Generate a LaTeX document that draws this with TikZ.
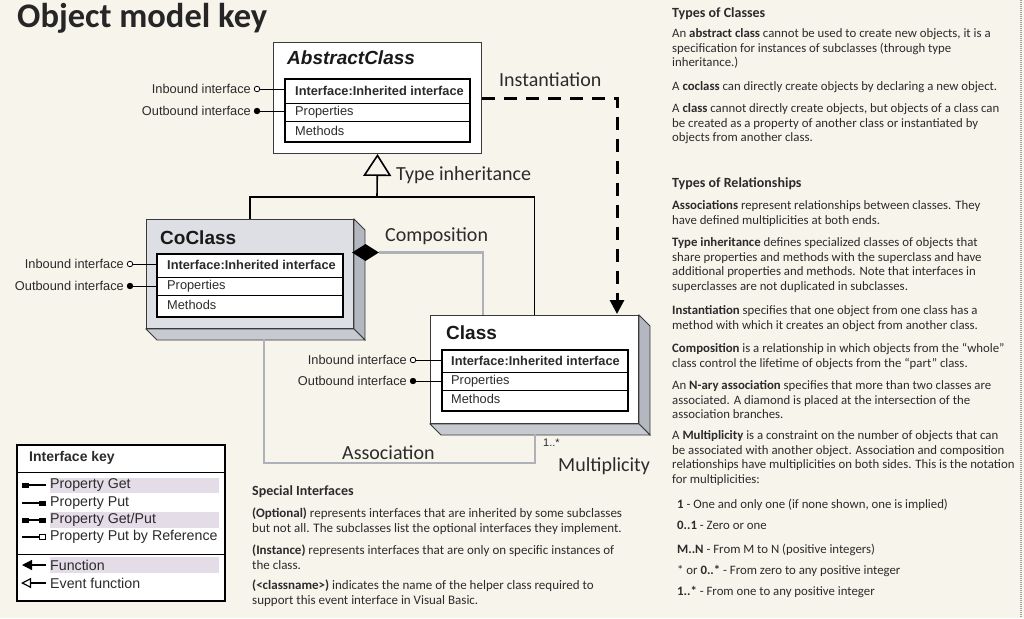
\documentclass[tikz,border=0pt]{standalone}
\usepackage{fontspec}
\setmainfont{Carlito}
\newfontfamily\arial{Liberation Sans}
\usetikzlibrary{arrows.meta,shapes.geometric,calc}
\definecolor{bgc}{HTML}{F7F4EC}
\definecolor{assocc}{HTML}{AEB1B8}
\definecolor{cofront}{HTML}{DDDFE4}
\definecolor{sidec}{HTML}{B3B7C0}
\definecolor{botc}{HTML}{C7CAD1}
\definecolor{hilite}{HTML}{E4DCE6}
\definecolor{txt}{HTML}{2B2B2B}
\definecolor{boxline}{HTML}{3A3A3A}
\tikzset{
  face/.style={draw=boxline, line width=1pt, inner sep=0pt, anchor=north west},
  tab/.style={draw=black, line width=1.8pt, fill=white, inner sep=0pt, anchor=north west},
  rowtxt/.style={anchor=west, inner sep=0pt, font=\arial\fontsize{12.8}{14}\selectfont, text=txt},
  rowbold/.style={rowtxt, font=\arial\bfseries\fontsize{12.8}{14}\selectfont},
  boxtitle/.style={anchor=west, inner sep=0pt, font=\arial\bfseries\fontsize{19}{21}\selectfont, text=black!90},
  lbl/.style={anchor=east, inner sep=0pt, font=\arial\fontsize{12.8}{14}\selectfont, text=txt},
  port/.style={circle, draw=black, line width=0.8pt, minimum size=5.5pt, inner sep=0pt},
  inport/.style={port, fill=white},
  outport/.style={port, fill=black},
  portline/.style={line width=0.8pt},
  rellbl/.style={anchor=west, inner sep=0pt, font=\fontsize{20}{22}\selectfont, text=txt},
  assoc/.style={draw=assocc, line width=2.6pt},
  keytxt/.style={anchor=west, inner sep=0pt, font=\arial\fontsize{14.2}{16}\selectfont, text=txt},
  para/.style={anchor=north west, inner sep=0pt, align=left, font=\fontsize{12.8}{14.6}\selectfont, text=txt},
  spara/.style={anchor=north west, inner sep=0pt, align=left, font=\fontsize{13}{14.2}\selectfont, text=txt},
  head/.style={anchor=west, inner sep=0pt, font=\bfseries\fontsize{14}{16}\selectfont, text=txt},
}
\newcommand\extrude[1]{%
  \filldraw[fill=sidec, draw=boxline, line width=0.8pt] (#1.north east) -- ++(11,11) -- ($(#1.south east)+(11,11)$) -- (#1.south east) -- cycle;
  \filldraw[fill=botc, draw=boxline, line width=0.8pt] (#1.south west) -- (#1.south east) -- ($(#1.south east)+(11,11)$) -- ($(#1.south west)+(11,11)$) -- cycle;
}
\begin{document}
\begin{tikzpicture}[x=1pt,y=-1pt]
\fill[bgc] (0,0) rectangle (1024,618);
\useasboundingbox (0,0) rectangle (1024,618);
\draw[gray!75, line width=1.6pt, dash pattern=on 1pt off 1pt] (1021,0) -- (1021,618);

% title
\node[anchor=west, inner sep=0pt, font=\bfseries\fontsize{34.5}{36}\selectfont, text=black!85] (title) at (17,18) {Object model key};

% ---------- AbstractClass ----------
\node[face, fill=white, minimum width=208pt, minimum height=111pt] (abs) at (273,42) {};
\node[boxtitle, font=\arial\bfseries\itshape\fontsize{19}{21}\selectfont] (abst) at (287,58) {AbstractClass};
\node[tab, minimum width=185pt, minimum height=63pt] (abstab) at (284,78) {};
\draw[line width=0.9pt] (abstab.west |- 0,103) -- (abstab.east |- 0,103);
\draw[line width=0.9pt] (abstab.west |- 0,121) -- (abstab.east |- 0,121);
\node[rowbold] (absr1) at (295,91) {Interface:Inherited interface};
\node[rowtxt] (absr2) at (295,112) {Properties};
\node[rowtxt] (absr3) at (295,131) {Methods};
\node[inport] (absin) at (257,89) {};
\node[outport] (absout) at (257,111) {};
\node[lbl] (absinl) at (251,89) {Inbound interface};
\node[lbl] (absoutl) at (251,111) {Outbound interface};
\draw[portline] (absin.east) -- (absin.east -| abstab.west);
\draw[portline] (absout.east) -- (absout.east -| abstab.west);

% ---------- CoClass ----------
\node[face, fill=cofront, minimum width=207pt, minimum height=109pt] (co) at (146,219) {};
\extrude{co}
\node[boxtitle] (cot) at (160,238) {CoClass};
\node[tab, minimum width=186pt, minimum height=63pt] (cotab) at (156,253) {};
\draw[line width=0.9pt] (cotab.west |- 0,277) -- (cotab.east |- 0,277);
\draw[line width=0.9pt] (cotab.west |- 0,295) -- (cotab.east |- 0,295);
\node[rowbold] (cor1) at (167,265) {Interface:Inherited interface};
\node[rowtxt] (cor2) at (167,286) {Properties};
\node[rowtxt] (cor3) at (167,305) {Methods};
\node[inport] (coin) at (130,264) {};
\node[outport] (coout) at (130,286) {};
\node[lbl] (coinl) at (124,264) {Inbound interface};
\node[lbl] (cooutl) at (124,286) {Outbound interface};
\draw[portline] (coin.east) -- (coin.east -| cotab.west);
\draw[portline] (coout.east) -- (coout.east -| cotab.west);

% ---------- Class ----------
\node[face, fill=white, minimum width=208pt, minimum height=108pt] (cl) at (430,315) {};
\extrude{cl}
\node[boxtitle] (clt) at (446,333) {Class};
\node[tab, minimum width=186pt, minimum height=61pt] (cltab) at (441,349) {};
\draw[line width=0.9pt] (cltab.west |- 0,372) -- (cltab.east |- 0,372);
\draw[line width=0.9pt] (cltab.west |- 0,390) -- (cltab.east |- 0,390);
\node[rowbold] (clr1) at (451,361) {Interface:Inherited interface};
\node[rowtxt] (clr2) at (451,381) {Properties};
\node[rowtxt] (clr3) at (451,399) {Methods};
\node[inport] (clin) at (413,360) {};
\node[outport] (clout) at (413,381) {};
\node[lbl] (clinl) at (407,360) {Inbound interface};
\node[lbl] (cloutl) at (407,381) {Outbound interface};
\draw[portline] (clin.east) -- (clin.east -| cltab.west);
\draw[portline] (clout.east) -- (clout.east -| cltab.west);

% ---------- connectors ----------
\coordinate (inh) at (377,197);
\draw[line width=1.6pt] (co.north) |- (inh) -| (cl.north);
\draw[line width=1.6pt, -{Triangle[open, length=22pt, width=28pt]}] (inh) -- (abs.south);
\node[rellbl] (inhl) at (396,175) {Type inheritance};

\coordinate (instend) at (617,314);
\draw[line width=3pt, dash pattern=on 13pt off 9pt, -{Triangle[length=14pt, width=14pt]}] (abs.east) -| (instend);
\node[rellbl] (instl) at (499,80) {Instantiation};

\node[diamond, fill=black, minimum width=27pt, minimum height=17pt, inner sep=0pt] (comp) at (365.5,252.5) {};
\coordinate (compend) at (483,315);
\draw[assoc] (comp.east) -| (compend);
\node[rellbl] (compl) at (385,236) {Composition};

\coordinate (asA) at (264,339);
\coordinate (asB) at (264,463);
\coordinate (asC) at (535,434);
\draw[assoc] (asA) -- (asB) -| (asC);
\node[rellbl] (assl) at (342,453) {Association};
\node[anchor=west, inner sep=0pt, font=\arial\fontsize{11}{12}\selectfont, text=txt] (mult1) at (543,443) {1..*};
\node[rellbl] (multl) at (558,466) {Multiplicity};

% ---------- Interface key ----------
\node[draw=black, line width=1.8pt, fill=white, minimum width=208pt, minimum height=156pt, anchor=north west, inner sep=0pt] (key) at (16,444) {};
\node[anchor=west, inner sep=0pt, font=\arial\bfseries\fontsize{14}{16}\selectfont, text=txt] (keyh) at (29,458) {Interface key};
\draw[line width=0.9pt] (key.west |- 0,472) -- (key.east |- 0,472);
\draw[line width=0.9pt] (key.west |- 0,554) -- (key.east |- 0,554);
\fill[hilite] (50,478) rectangle (219,493);
\fill[hilite] (50,512) rectangle (219,528);
\fill[hilite] (50,557) rectangle (219,573);
\node[keytxt] (k1) at (50,485) {Property Get};
\node[keytxt] (k2) at (50,503) {Property Put};
\node[keytxt] (k3) at (50,520) {Property Get/Put};
\node[keytxt] (k4) at (50,537) {Property Put by Reference};
\node[keytxt] (k5) at (50,565) {Function};
\node[keytxt] (k6) at (50,583) {Event function};
% symbols
\fill (22,482.5) rectangle (29,487.5); \draw[line width=1.2pt] (29,485) -- (46,485);
\draw[line width=1.2pt] (22,503) -- (39,503); \fill (39,500.5) rectangle (46,505.5);
\fill (22,517.5) rectangle (29,522.5); \draw[line width=1.2pt] (29,520) -- (39,520); \fill (39,517.5) rectangle (46,522.5);
\draw[line width=1.2pt] (22,537) -- (39,537); \draw[line width=1pt, fill=white] (39.5,534.5) rectangle (45.5,539.5);
\draw[line width=1.2pt, -{Triangle[length=10pt, width=10pt]}] (46,565) -- (22,565);
\draw[line width=1.2pt, -{Triangle[open, length=10pt, width=10pt]}] (46,583) -- (21,583);

% ---------- Special interfaces ----------
\node[head] (sih) at (252,492) {Special Interfaces};
\node[spara] (si1) at (252,508) {\textbf{(Optional)} represents interfaces that are inherited by some subclasses\\but not all. The subclasses list the optional interfaces they implement.};
\node[spara] (si2) at (252,545) {\textbf{(Instance)} represents interfaces that are only on specific instances of\\the class.};
\node[spara] (si3) at (252,580) {\textbf{(<classname>)} indicates the name of the helper class required to\\support this event interface in Visual Basic.};

% ---------- Right column ----------
\node[head] (toc) at (672,14) {Types of Classes};
\node[para] (p1) at (672,28.5) {An \textbf{abstract class} cannot be used to create new objects, it is a\\specification for instances of subclasses (through type\\inheritance.)};
\node[para] (p2) at (672,81.5) {A \textbf{coclass} can directly create objects by declaring a new object.};
\node[para] (p3) at (672,103.5) {A \textbf{class} cannot directly create objects, but objects of a class can\\be created as a property of another class or instantiated by\\objects from another class.};
\node[head] (tor) at (672,184) {Types of Relationships};
\node[para] (p4) at (672,200.5) {\textbf{Associations} represent relationships between classes. They\\have defined multiplicities at both ends.};
\node[para] (p5) at (672,237.5) {\textbf{Type inheritance} defines specialized classes of objects that\\share properties and methods with the superclass and have\\additional properties and methods. Note that interfaces in\\superclasses are not duplicated in subclasses.};
\node[para] (p6) at (672,305.5) {\textbf{Instantiation} specifies that one object from one class has a\\method with which it creates an object from another class.};
\node[para] (p7) at (672,343.5) {\textbf{Composition} is a relationship in which objects from the “whole”\\class control the lifetime of objects from the “part” class.};
\node[para] (p8) at (672,380.5) {An \textbf{N-ary association} specifies that more than two classes are\\associated. A diamond is placed at the intersection of the\\association branches.};
\node[para] (p9) at (672,430.5) {A \textbf{Multiplicity} is a constraint on the number of objects that can\\be associated with another object. Association and composition\\relationships have multiplicities on both sides. This is the notation\\for multiplicities:};
\node[para] (m1) at (677,498.5) {\textbf{1} - One and only one (if none shown, one is implied)};
\node[para] (m2) at (677,520.5) {\textbf{0..1} - Zero or one};
\node[para] (m3) at (677,543.5) {\textbf{M..N} - From M to N (positive integers)};
\node[para] (m4) at (677,565.5) {* or \textbf{0..*} - From zero to any positive integer};
\node[para] (m5) at (677,586.5) {\textbf{1..*} - From one to any positive integer};
\end{tikzpicture}
\end{document}
